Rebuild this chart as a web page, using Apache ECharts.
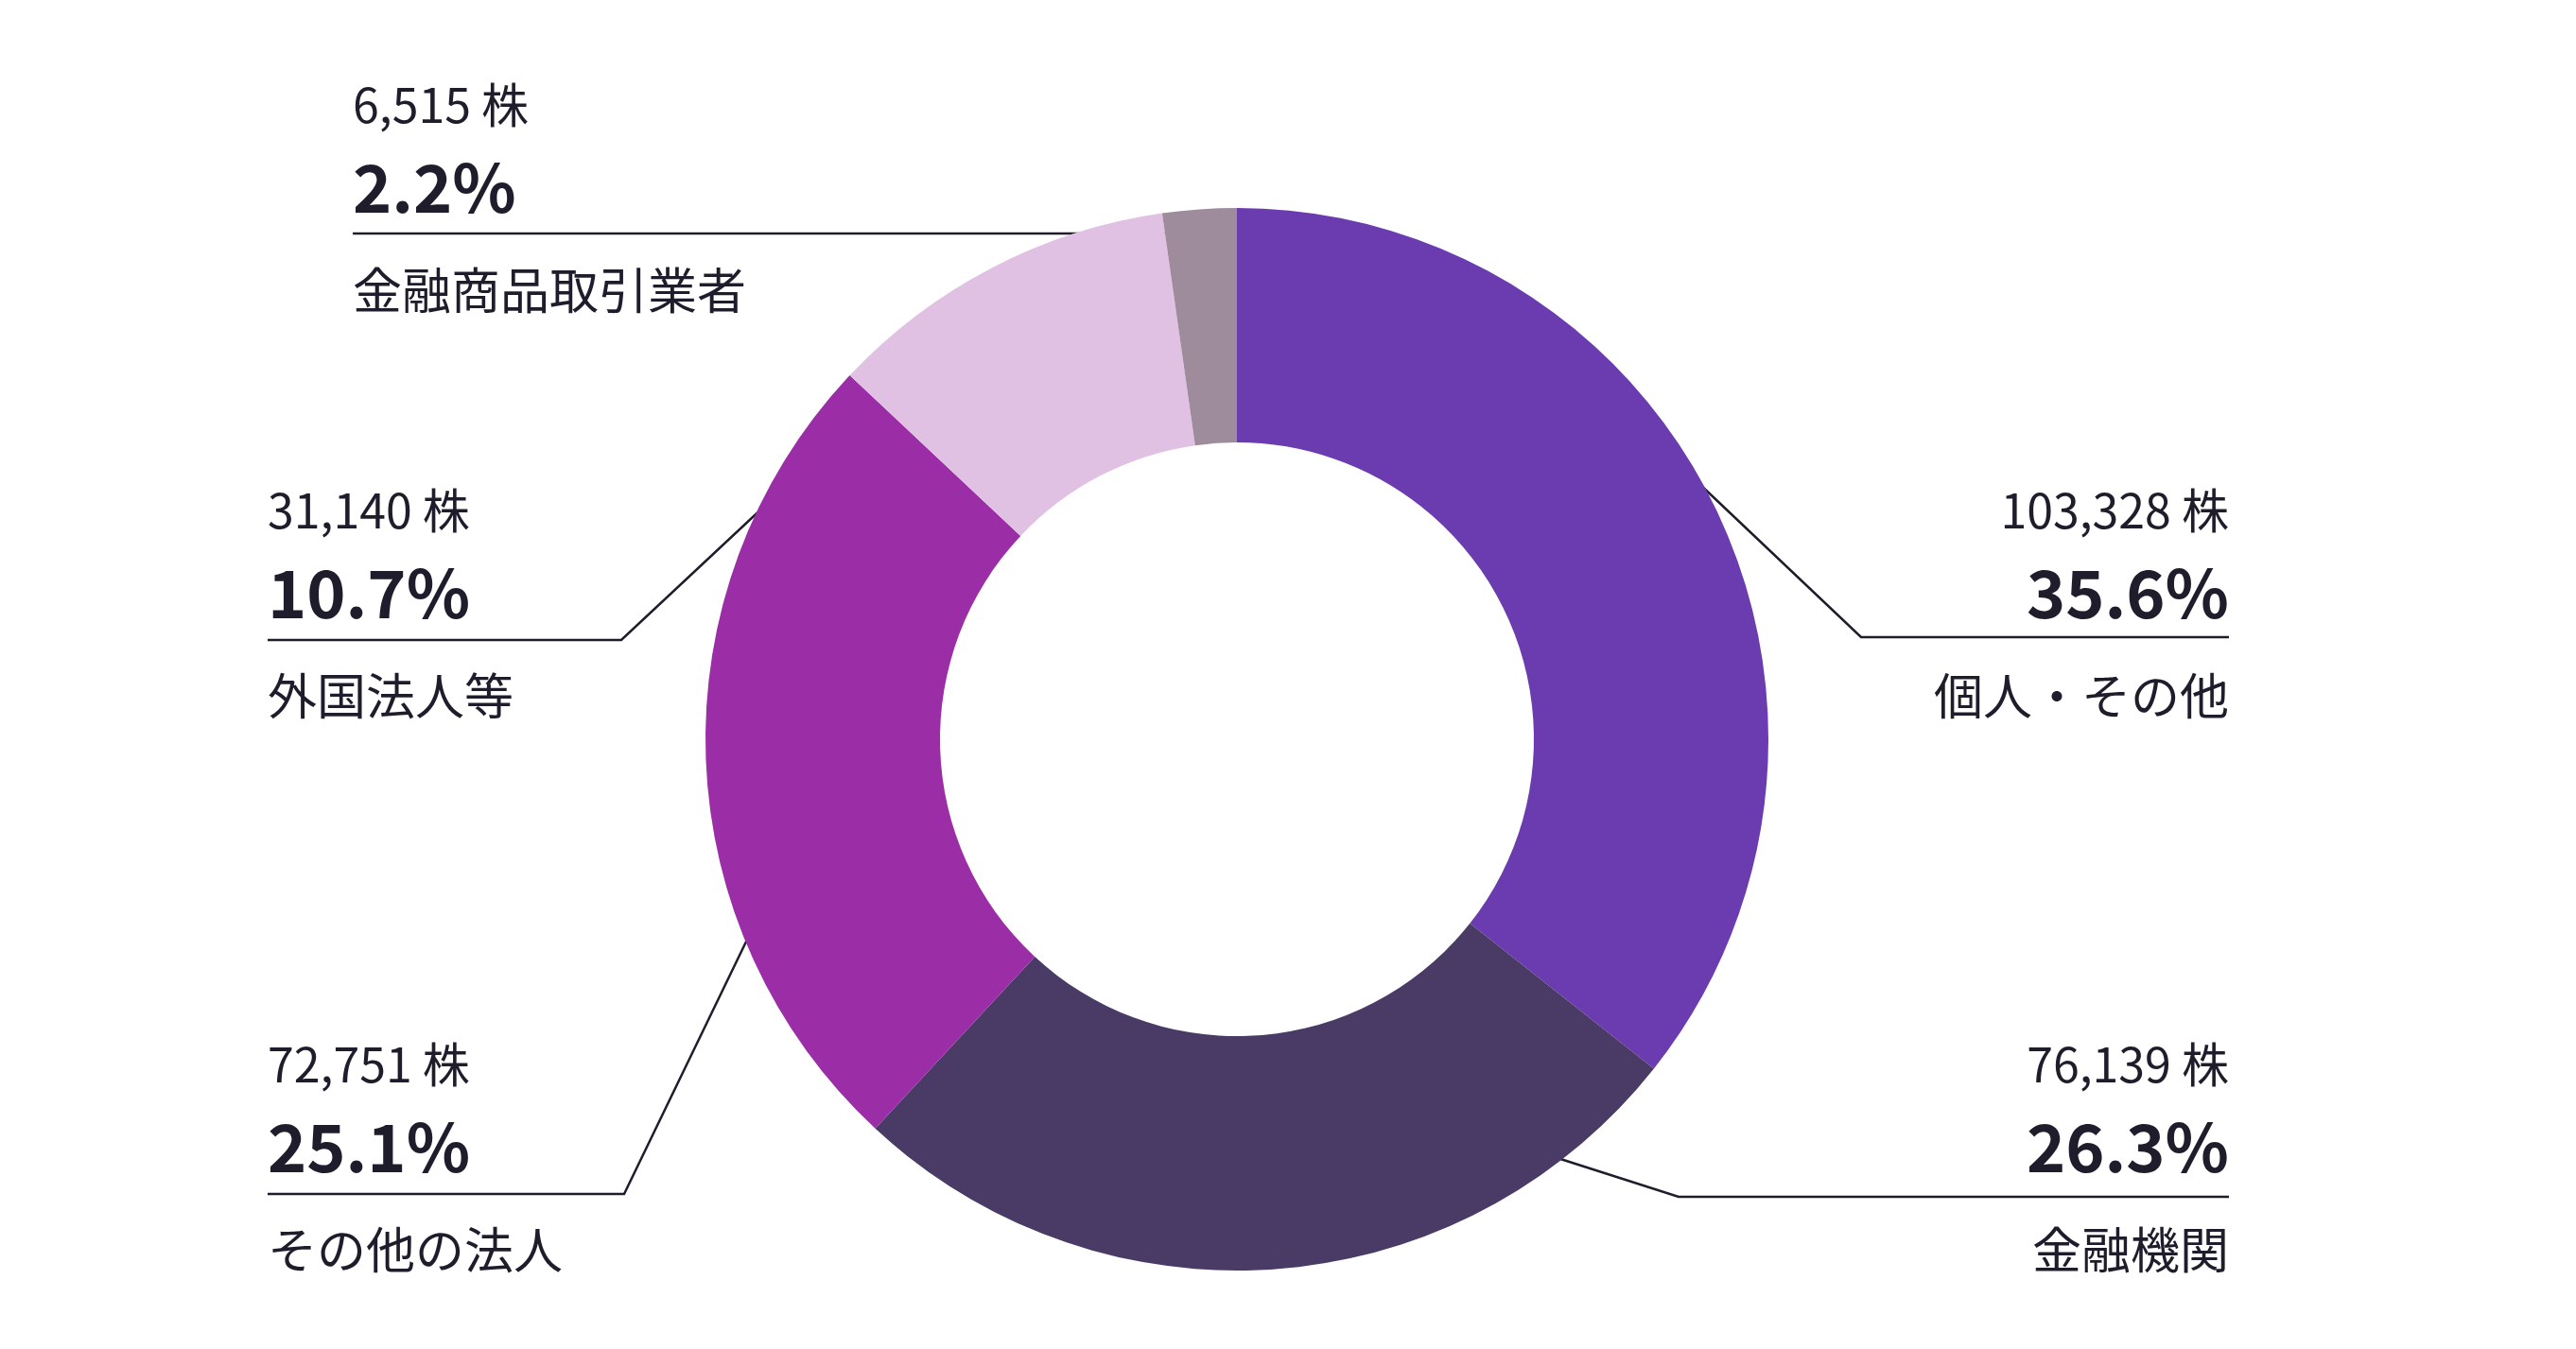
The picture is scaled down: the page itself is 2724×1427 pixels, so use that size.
<!DOCTYPE html>
<html><head><meta charset="utf-8">
<script src="https://cdn.jsdelivr.net/npm/echarts@6/dist/echarts.min.js"></script>
<style>html,body{margin:0;background:#fff}#c{width:2724px;height:1427px}</style>
</head><body><div id="c"></div>
<script>
const categories = ['個人・その他','金融機関','その他の法人','外国法人等','金融商品取引業者'];
const shares = [103328, 76139, 72751, 31140, 6515];
const percents = ['35.6%','26.3%','25.1%','10.7%','2.2%'];
const colors = ['#6a3cb0','#4a3a66','#9b2ea6','#e0c1e4','#9e8c9c'];
// label layout: [textX, textTop, align, start, elbow, ruleEnd]
const layouts = [
  [2357, 497, 'right', [1794,509], [1968,674], [2357,674]],
  [2357, 1083, 'right', [1647,1225], [1775,1266], [2357,1266]],
  [283, 1083, 'left', [790,994], [660,1263], [283,1263]],
  [283, 497, 'left', [889,460], [657,677], [283,677]],
  [373, 68, 'left', [1254,247], [1254,247], [373,247]]
];
const F = '"Noto Sans CJK JP", "Noto Sans", sans-serif';
function rich(al){return {
  a:{fontSize:50,lineHeight:86,color:'#1f1d2b',fontFamily:F,align:al},
  p:{fontSize:70,fontWeight:'bold',lineHeight:88,color:'#1f1d2b',fontFamily:F,align:al},
  n:{fontSize:52,lineHeight:130,color:'#1f1d2b',fontFamily:F,align:al}
};}
const data = categories.map((c,i)=>({
  name:c, value:shares[i], itemStyle:{color:colors[i]},
  label:{align:layouts[i][2], rich:rich(layouts[i][2])}
}));
const chart = echarts.init(document.getElementById('c'));
chart.setOption({
  animation:false,
  series:[{
    type:'pie', center:[1308,782], radius:[314,562], startAngle:90, clockwise:true,
    data:data,
    label:{show:true, position:'outside',
      formatter:p=>'{a|'+shares[p.dataIndex].toLocaleString('en-US')+' 株}\n{p|'+percents[p.dataIndex]+'}\n{n|'+p.name+'}'},
    labelLine:{show:true, lineStyle:{color:'#1f1d2b',width:2.5}},
    labelLayout:function(p){
      const L = layouts[p.dataIndex];
      return {x:L[0], y:L[1], align:L[2], verticalAlign:'top', labelLinePoints:[L[3],L[4],L[5]]};
    }
  }]
});
</script></body></html>
